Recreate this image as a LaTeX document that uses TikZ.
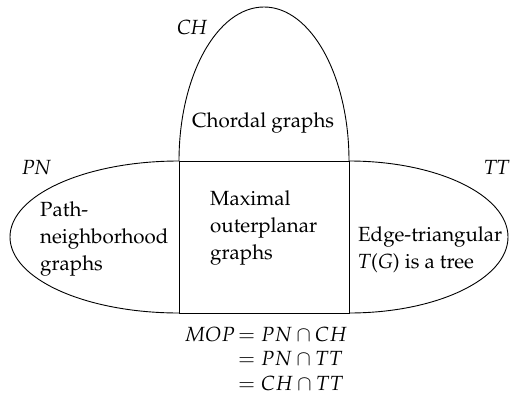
\documentclass[tikz,border=0pt]{standalone}
\usepackage[T1]{fontenc}
\usepackage{mathpazo}
\begin{document}
\begin{tikzpicture}[x=1pt,y=1pt,
  line/.style={draw=black, line width=0.9pt},
  txt/.style={inner sep=0pt, anchor=base west, font=\fontsize{20.5}{27}\selectfont},
  eq/.style={txt}]
\useasboundingbox (0,0) rectangle (510,-401);
% left part of PN ellipse
\draw[line] (179,-161) arc[start angle=90, end angle=270, x radius=169, y radius=76];
% right part of TT ellipse
\draw[line] (349,-161) arc[start angle=90, end angle=-90, x radius=159, y radius=76];
% middle rectangle
\draw[line] (179,-161) rectangle (349,-313);
% CH dome
\draw[line] (179,-161) arc[start angle=180, end angle=0, x radius=85, y radius=154];
% set labels
\node[txt] (ch) at (177,-35) {\textit{CH}};
\node[txt] (pn) at (22,-174) {\textit{PN}};
\node[txt] (tt) at (484,-174) {\textit{TT}};
% region labels
\node[txt] (chord) at (192,-127.5) {Chordal graphs};
\node[txt] (p1) at (40,-216) {Path-};
\node[txt] (p2) at (40,-243) {neighborhood};
\node[txt] (p3) at (40,-270) {graphs};
\node[txt] (m1) at (210,-205) {Maximal};
\node[txt] (m2) at (210,-232) {outerplanar};
\node[txt] (m3) at (210,-259) {graphs};
\node[txt] (e1) at (358,-241) {Edge-triangular};
\node[txt] (e2) at (358,-268) {\textit{T}(\textit{G}) is a tree};
% equations
\node[eq, anchor=base east] (mop) at (235,-341) {$MOP$};
\node[eq] (eq1) at (238,-341) {$= PN \cap CH$};
\node[eq] (eq2) at (238,-365.5) {$= PN \cap TT$};
\node[eq] (eq3) at (238,-390) {$= CH \cap TT$};
\end{tikzpicture}
\end{document}
